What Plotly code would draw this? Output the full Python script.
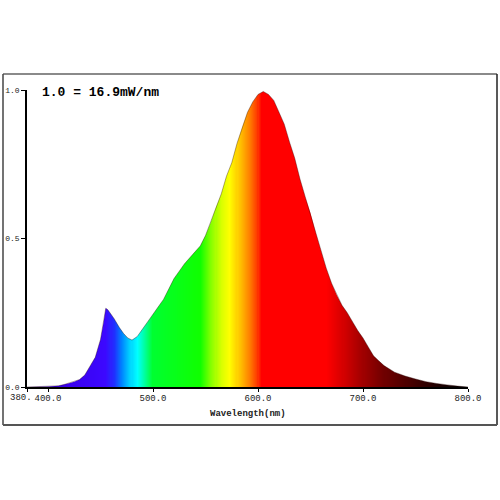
import numpy as np
import plotly.graph_objects as go

# Spectrum data (wavelength nm, relative intensity)
wavelength = [380, 400, 410, 415, 420, 425, 430, 435, 440, 445, 450, 453, 455, 457, 460, 463,
              468, 472, 476, 480, 485, 490, 495, 500, 505, 510, 515, 520, 525, 530, 535, 540,
              545, 550, 555, 560, 565, 570, 575, 580, 585, 590, 595, 600, 605, 610, 615, 620,
              625, 630, 635, 640, 645, 650, 655, 660, 665, 670, 675, 680, 685, 690, 695, 700,
              705, 710, 715, 720, 730, 740, 750, 760, 770, 780, 790, 800]
intensity = [0.0, 0.002, 0.004, 0.008, 0.013, 0.018, 0.025, 0.04, 0.07, 0.10, 0.16, 0.22, 0.265, 0.26, 0.245, 0.23,
             0.20, 0.18, 0.165, 0.158, 0.17, 0.195, 0.22, 0.245, 0.27, 0.295, 0.33, 0.365, 0.39, 0.415, 0.435, 0.455,
             0.475, 0.51, 0.555, 0.605, 0.65, 0.71, 0.755, 0.82, 0.875, 0.925, 0.96, 0.985, 0.995, 0.985, 0.965, 0.925,
             0.885, 0.825, 0.77, 0.70, 0.64, 0.585, 0.52, 0.46, 0.40, 0.35, 0.31, 0.275, 0.25, 0.22, 0.19, 0.165,
             0.135, 0.105, 0.088, 0.072, 0.05, 0.037, 0.027, 0.018, 0.012, 0.007, 0.003, 0.0]

x_ticks = [380, 400, 500, 600, 700, 800]
x_tick_labels = ["", "400.0", "500.0", "600.0", "700.0", "800.0"]
x_first_label = "380."
y_ticks = [0, 0.5, 1.0]
y_tick_labels = ["0.0", "0.5", "1.0"]

# Colour ramp stops (wavelength -> colour) for the spectral fill
ramp_wl = [380, 420, 455, 463, 470, 478, 485, 492, 500, 545, 555, 565, 573, 583, 592, 599, 603,
           665, 680, 700, 720, 745, 770, 795, 800]
ramp_col = ["#2a00b0", "#3a00ee", "#3c08ff", "#2030ff", "#0080ff", "#00d0ff", "#00ffff", "#00ffa0",
            "#00ff30", "#10ff00", "#80ff00", "#d8ff00", "#ffff00", "#ffc000", "#ff8000", "#ff4000",
            "#ff0000", "#ff0000", "#d80000", "#a00000", "#700000", "#480000", "#200000", "#050000", "#000000"]

WMIN, WMAX = 380, 800
colorscale = [[(w - WMIN) / (WMAX - WMIN), c] for w, c in zip(ramp_wl, ramp_col)]
grid = np.arange(WMIN, WMAX + 1, 1)

FONT = "Liberation Mono"

fig = go.Figure()
fig.add_trace(go.Heatmap(x=grid, y=[0, 1.0], z=[grid, grid], colorscale=colorscale,
                         zmin=WMIN, zmax=WMAX, showscale=False, hoverinfo="skip"))
# white mask above the curve
fig.add_trace(go.Scatter(x=wavelength + [WMAX, WMIN], y=intensity + [1.05, 1.05],
                         fill="toself", fillcolor="white", mode="none", hoverinfo="skip"))
fig.add_trace(go.Scatter(x=wavelength, y=intensity, mode="lines",
                         line=dict(color="rgba(40,0,0,0.45)", width=0.8), hoverinfo="skip"))

L, R, T, B = 27, 468, 90, 387  # plot area in screen pixels
W = R - L
H = B - T
def px(x):
    return (x - L) / W
def py(y):
    return (B - y) / H

fig.update_layout(
    width=500, height=500,
    margin=dict(l=L, r=500 - R, t=T, b=500 - B, autoexpand=False),
    paper_bgcolor="white", plot_bgcolor="white",
    showlegend=False,
    xaxis=dict(range=[WMIN, WMAX], tickvals=x_ticks, ticktext=x_tick_labels, tickangle=0,
               automargin=False, ticklabelstandoff=-2,
               showgrid=False, zeroline=False, showline=True, linecolor="black", linewidth=1.5,
               ticks="outside", ticklen=3, tickcolor="black",
               tickfont=dict(family=FONT, size=9, color="#222"), fixedrange=True),
    yaxis=dict(range=[0, 1.0], tickvals=y_ticks, ticktext=y_tick_labels, automargin=False,
               showgrid=False, zeroline=False, showline=True, linecolor="black", linewidth=1.5,
               ticks="outside", ticklen=4, tickcolor="black",
               tickfont=dict(family=FONT, size=8, color="#222"), fixedrange=True),
    annotations=[
        dict(text="<b>1.0 = 16.9mW/nm</b>", xref="paper", yref="paper", x=px(40), y=py(93),
             xanchor="left", yanchor="middle", showarrow=False,
             font=dict(family=FONT, size=13, color="black")),
        dict(text="<b>Wavelength(nm)</b>", xref="paper", yref="paper", x=px(248), y=py(414),
             xanchor="center", yanchor="middle", showarrow=False,
             font=dict(family=FONT, size=9, color="#222")),
        dict(text=x_first_label, xref="paper", yref="paper", x=px(34), y=py(398),
             xanchor="right", yanchor="middle", showarrow=False,
             font=dict(family=FONT, size=9, color="#222")),
    ],
    shapes=[
        dict(type="line", xref="paper", yref="paper", x0=px(3), x1=px(497), y0=py(74), y1=py(74),
             line=dict(color="#8a8a8a", width=2)),
        dict(type="line", xref="paper", yref="paper", x0=px(3), x1=px(3), y0=py(74), y1=py(425),
             line=dict(color="#444", width=1.5)),
        dict(type="line", xref="paper", yref="paper", x0=px(497), x1=px(497), y0=py(74), y1=py(425),
             line=dict(color="#222", width=1.5)),
        dict(type="line", xref="paper", yref="paper", x0=px(3), x1=px(497), y0=py(425), y1=py(425),
             line=dict(color="#555", width=2)),
    ],
)

fig.write_html("out.html", config={"displayModeBar": False},
               post_script="document.body.style.margin='0px';")
